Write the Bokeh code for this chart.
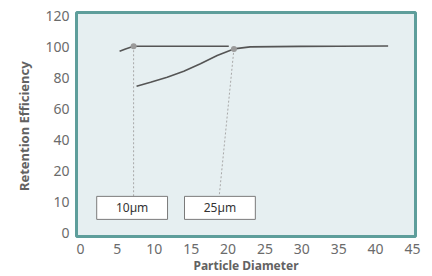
import numpy as np
from bokeh.plotting import figure
from bokeh.models import FixedTicker, ColumnDataSource
from bokeh.core.properties import value
from bokeh.embed import file_html
from bokeh.resources import INLINE

# ---- data ----
y_tick_values = [0, 10, 20, 40, 60, 80, 100, 120]
x_tick_values = [0, 5, 10, 15, 20, 25, 30, 35, 40, 45]

curve1_x = [5.3, 6.1, 7.2, 12.0, 16.0, 20.1]
curve1_y = [97.1, 98.6, 100.3, 100.3, 100.3, 100.3]

curve2_x = [7.6, 9.5, 11.75, 14.0, 16.26, 18.53, 20.78, 23.0, 29.8, 35.0, 41.7]
curve2_y = [74.6, 77.2, 80.4, 84.2, 89.0, 94.3, 98.6, 99.9, 100.2, 100.3, 100.5]

marker_x = [7.2, 20.8]
marker_y = [100.3, 98.6]
marker_labels = ["10µm", "25µm"]
leader_end_x = [7.2, 18.8]
box_left = [2.2, 14.1]
box_right = [11.8, 23.7]
box_top = [11.9, 11.9]
box_bottom = [4.5, 4.5]

FONT = "Noto Sans"

def ypos(v):
    return np.interp(v, y_tick_values, np.arange(len(y_tick_values)))

p = figure(frame_width=339, frame_height=224, output_backend="svg", toolbar_location=None,
           x_range=(-0.54, 45.41), y_range=(-0.1, 7.1),
           min_border_left=76, min_border_right=17, min_border_top=12, min_border_bottom=40)

p.border_fill_color = "white"
p.background_fill_color = "#e6eff1"
p.outline_line_color = "#5e9e9b"
p.outline_line_width = 3
p.grid.visible = False

# boxes and leader lines
box_src = ColumnDataSource(dict(
    left=box_left, right=box_right,
    top=list(ypos(box_top)), bottom=list(ypos(box_bottom)),
    cx=[(a + b) / 2 for a, b in zip(box_left, box_right)],
    cy=list((ypos(box_top) + ypos(box_bottom)) / 2),
    label=marker_labels))

p.segment(x0=marker_x, y0=list(ypos(marker_y)), x1=leader_end_x, y1=list(ypos(box_top)),
          line_color="#a8a8a8", line_width=1, line_dash="2 2")

p.quad(left="left", right="right", top="top", bottom="bottom", source=box_src,
       fill_color="white", line_color="#7a7a7a", line_width=1)
p.text(x="cx", y="cy", text="label", source=box_src, text_align="center",
       text_baseline="middle", text_font=value(FONT), text_font_size="12px",
       text_color="#333333")

# curves
p.line(curve1_x, list(ypos(curve1_y)), line_color="#555555", line_width=1.6)
p.line(curve2_x, list(ypos(curve2_y)), line_color="#555555", line_width=1.6)
p.scatter(marker_x, list(ypos(marker_y)), size=6, fill_color="#9a9a9a", line_color=None)

# axes
p.yaxis.ticker = FixedTicker(ticks=list(range(len(y_tick_values))))
p.yaxis.major_label_overrides = {i: str(v) for i, v in enumerate(y_tick_values)}
p.xaxis.ticker = FixedTicker(ticks=x_tick_values)

for ax in (p.xaxis, p.yaxis):
    ax.axis_line_color = None
    ax.major_tick_line_color = None
    ax.minor_tick_line_color = None
    ax.major_tick_out = 0
    ax.major_tick_in = 0
    ax.major_label_text_font = FONT
    ax.major_label_text_font_size = "14px"
    ax.major_label_text_color = "#6b6b6b"
    ax.axis_label_text_font = FONT
    ax.axis_label_text_font_style = "bold"
    ax.axis_label_text_color = "#626262"

p.xaxis.major_label_standoff = 7
p.yaxis.major_label_standoff = 7
p.xaxis.axis_label = "Particle Diameter"
p.yaxis.axis_label = "Retention  Efficiency"
p.xaxis.axis_label_text_font_size = "12px"
p.yaxis.axis_label_text_font_size = "13px"
p.xaxis.axis_label_standoff = 0
p.yaxis.axis_label_standoff = 9

open("out.html", "w").write(file_html(p, INLINE))
